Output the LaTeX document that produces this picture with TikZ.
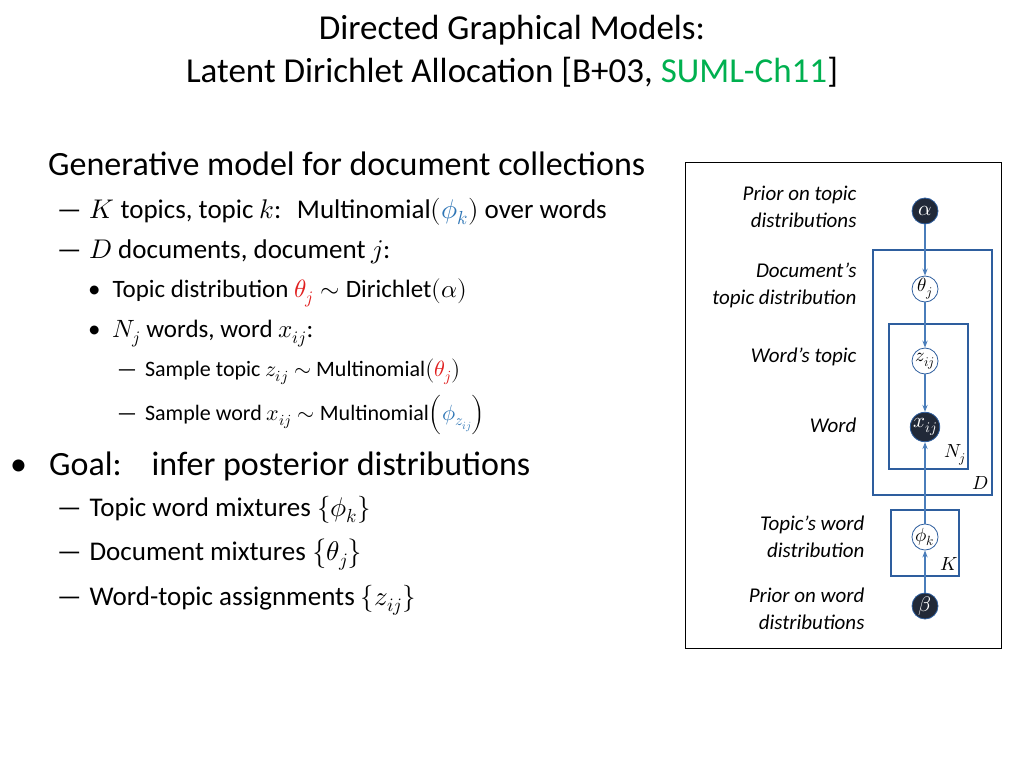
\documentclass[tikz,border=0pt]{standalone}
\usepackage{amsmath}
\usepackage{fontspec}
\usepackage{unicode-math}
\setmainfont{Carlito}
\setmathfont{Latin Modern Math}
\usepackage{xcolor}
\usepackage{tikz}
\usetikzlibrary{arrows.meta, positioning}
\definecolor{platecol}{rgb}{0.18,0.37,0.62}
\definecolor{edgecol}{rgb}{0.29,0.49,0.73}
\definecolor{obscol}{rgb}{0.13,0.16,0.22}
\definecolor{sumlgreen}{rgb}{0.0,0.69,0.31}
\definecolor{thetared}{rgb}{0.88,0.12,0.12}
\definecolor{phiblue}{rgb}{0.18,0.46,0.71}
\newcommand{\fs}[1]{\fontsize{#1}{#1}\selectfont}

\begin{document}
\begin{tikzpicture}[x=1pt, y=-1pt,
    line1/.style={anchor=base west, inner sep=0pt, font=\fs{34}},
    line2/.style={anchor=base west, inner sep=0pt, font=\fs{27}},
    line3/.style={anchor=base west, inner sep=0pt, font=\fs{25}},
    latent/.style={circle, draw=platecol, thick, fill=white, minimum size=26pt, inner sep=0pt, font=\fs{19}},
    obs/.style={circle, draw=platecol, thick, fill=obscol, text=white, minimum size=26pt, inner sep=0pt, font=\fs{21}},
    plate/.style={draw=platecol, line width=1.6pt},
    lbl/.style={align=right, anchor=east, font=\fontsize{21}{27}\selectfont\itshape},
    arrow/.style={-{Stealth[length=7pt]}, edgecol, line width=1.6pt}
]
\useasboundingbox (0,0) rectangle (1024,768);

% title
\node[font=\fs{35}] (title1) at (512,30) {Directed Graphical Models:};
\node[font=\fs{35}] (title2) at (512,72) {Latent Dirichlet Allocation [B+03, \textcolor{sumlgreen}{SUML-Ch11}]};

% left text
\node[line1] (gen) at (48,175) {Generative model for document collections};
\node[line2] (t1) at (57,218) {—\hspace{8pt}$K$ topics, topic $k$:\; Multinomial$(\textcolor{phiblue}{\phi_k})$ over words};
\node[line2] (t2) at (57,258) {—\hspace{8pt}$D$ documents, document $j$:};
\node[line3] (t3) at (88,297) {•\hspace{12pt}Topic distribution $\textcolor{thetared}{\theta_j}\sim$ Dirichlet$(\alpha)$};
\node[line3] (t4) at (88,337) {•\hspace{12pt}$N_j$ words, word $x_{ij}$:};
\node[line3, font=\fs{22}] (t5) at (117,376) {—\hspace{8pt}Sample topic $z_{ij}\sim$ Multinomial$\bigl(\textcolor{thetared}{\theta_j}\bigr)$};
\node[line3, font=\fs{22}] (t6) at (117,420) {—\hspace{8pt}Sample word $x_{ij}\sim$ Multinomial$\Bigl(\textcolor{phiblue}{\phi_{z_{ij}}}\Bigr)$};
\node[line1] (goal) at (10,475) {•\hspace{22pt}Goal:\hspace{30pt}infer posterior distributions};
\node[line2] (g1) at (57,516) {—\hspace{8pt}Topic word mixtures $\{\phi_k\}$};
\node[line2] (g2) at (57,560) {—\hspace{8pt}Document mixtures $\bigl\{\theta_j\bigr\}$};
\node[line2] (g3) at (57,605) {—\hspace{8pt}Word-topic assignments $\{z_{ij}\}$};

% graphical model panel
\draw[black, thin] (685,162) rectangle (1001,648);
\draw[plate] (873,250) rectangle (992,495);
\draw[plate] (889,324) rectangle (968,469);
\draw[plate] (891,510) rectangle (959,576);
\node[font=\fs{19}] (nj) at (955,455) {$N_j$};
\node[font=\fs{19}] (dd) at (980,483) {$D$};
\node[font=\fs{19}] (kk) at (949,564) {$K$};

\node[obs] (alpha) at (925,211) {$\alpha$};
\node[latent] (theta) at (925,289) {$\theta_j$};
\node[latent] (z) at (925,361) {$z_{ij}$};
\node[obs] (x) at (925,427) {$x_{ij}$};
\node[latent] (phi) at (925,537) {$\phi_k$};
\node[obs] (beta) at (925,606) {$\beta$};

\node[lbl] (lalpha) at (860,207) {Prior on topic\\distributions};
\node[lbl] (ltheta) at (860,285) {Document’s\\topic distribution};
\node[lbl] (lz) at (860,357) {Word’s topic};
\node[lbl] (lx) at (860,425) {Word};
\node[lbl] (lphi) at (868,537) {Topic’s word\\distribution};
\node[lbl] (lbeta) at (868,609) {Prior on word\\distributions};

\draw[arrow] (alpha) -- (theta);
\draw[arrow] (theta) -- (z);
\draw[arrow] (z) -- (x);
\draw[arrow] (phi) -- (x);
\draw[arrow] (beta) -- (phi);

\end{tikzpicture}
\end{document}
